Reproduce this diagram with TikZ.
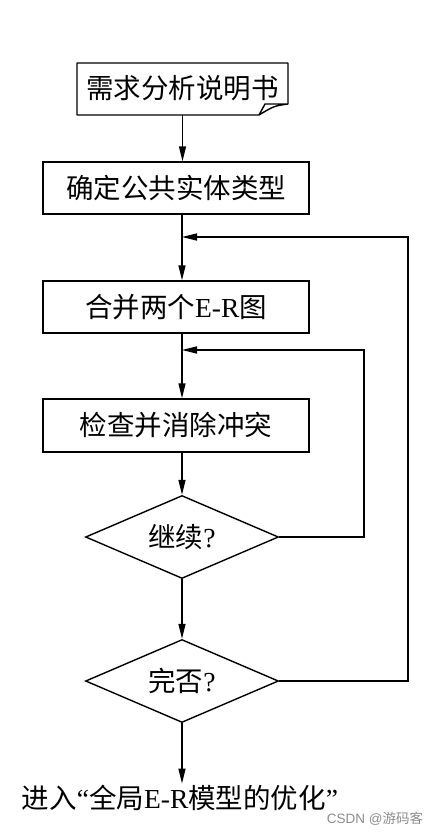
\documentclass[tikz,border=0pt]{standalone}
\usepackage{fontspec}
\setmainfont{Liberation Serif}
\newfontfamily\cjk{Noto Sans CJK SC}
\newfontfamily\wmfont{Liberation Sans}
\usetikzlibrary{shapes.geometric,arrows.meta}

\begin{document}
\begin{tikzpicture}[x=1pt,y=-1pt,line width=1.4pt,
    >={Triangle[length=15pt,width=7pt]},
    lbl/.style={font=\fontsize{27.5}{32}\selectfont},
    stepbox/.style={lbl,draw,minimum width=266pt,minimum height=52pt,inner sep=0pt},
    ask/.style={lbl,draw,diamond,aspect=2.3,minimum width=193pt,minimum height=83pt,inner sep=0pt}]
    \useasboundingbox (0,0) rectangle (439,835);
    % document shape
    \draw [line join=round] (259,115) -- (77,115) -- (77,63) -- (288,63) -- (288,104)
        .. controls (274,106) .. (259,115) -- (265,104) -- (288,104);
    \node [lbl,minimum width=211pt,minimum height=52pt,inner sep=0pt] (doc) at (182.5,88) {\cjk 需求分析说明书};
    \node [stepbox] (box1) at (176,188) {\cjk 确定公共实体类型};
    \node [stepbox] (box2) at (176,307) {{\cjk 合并两个}E-R{\cjk 图}};
    \node [stepbox,minimum height=53pt] (box3) at (176,425.5) {\cjk 检查并消除冲突};
    \node [ask] (d1) at (182,537) {{\cjk 继续}?};
    \node [ask] (d2) at (182,681) {{\cjk 完否}?};
    \node [lbl,inner sep=1pt] (next) at (180,798) {{\cjk 进入}“{\cjk 全局}E-R{\cjk 模型的优化}”};
    \node [font=\wmfont\fontsize{13.5}{15}\selectfont,text=black!45,inner sep=0pt] (mark) at (375,819) {CSDN @{\cjk 游码客}};
    \coordinate (back1) at (364,350);
    \coordinate (back2) at (408,237);
    % main flow
    \draw [->] (doc.south) -- (doc.south |- box1.north);
    \draw [->] (d1 |- box1.south) -- (d1 |- box2.north);
    \draw [->] (d1 |- box2.south) -- (d1 |- box3.north);
    \draw [->] (d1 |- box3.south) -- (d1.north);
    \draw [->] (d1.south) -- (d2.north);
    \draw [->] (d2.south) -- (d2.south |- next.north);
    % loops back
    \draw [->] (d1.east) -| (back1) -- (back1 -| d1);
    \draw [->] (d2.east) -| (back2) -- (back2 -| d2);
\end{tikzpicture}
\end{document}
